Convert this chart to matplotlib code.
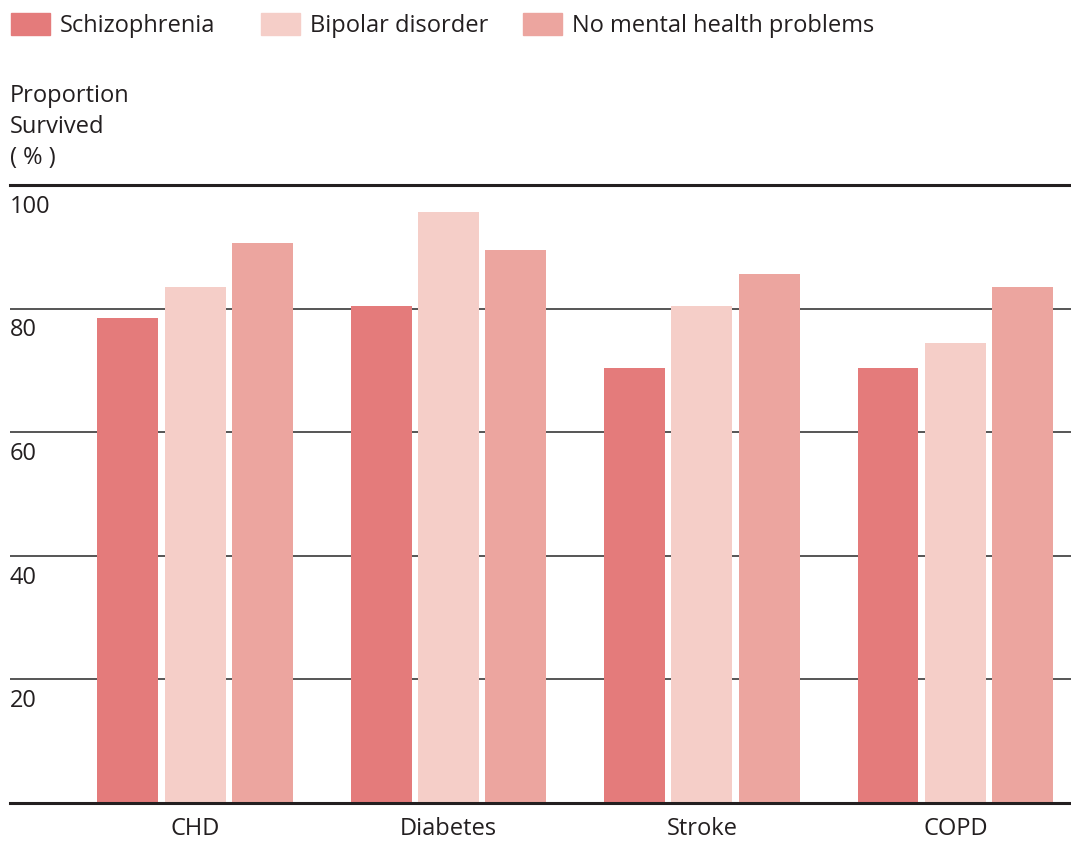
import numpy as np
import matplotlib
matplotlib.use("Agg")
import matplotlib.pyplot as plt
from matplotlib.patches import Rectangle

plt.rcParams['font.family'] = ['Open Sans', 'DejaVu Sans']

# ---------------- Data ----------------
categories = ["CHD", "Diabetes", "Stroke", "COPD"]
series_names = ["Schizophrenia", "Bipolar disorder", "No mental health problems"]
schizophrenia = [78.5, 80.4, 70.4, 70.4]
bipolar = [83.5, 95.6, 80.4, 74.4]
no_problems = [90.6, 89.5, 85.6, 83.5]
yticks = [20, 40, 60, 80, 100]

colors = ["#E47B7B", "#F5CEC8", "#ECA59F"]
text_col = "#231F20"

W, H = 1071, 841
fig = plt.figure(figsize=(W / 100, H / 100), dpi=100)
ax = fig.add_axes([10 / W, 1 - 803 / H, 1 - 10 / W, (803 - 185) / H])

x = np.arange(len(categories))
width = 0.2406
step = 0.266
for i, vals in enumerate([schizophrenia, bipolar, no_problems]):
    ax.bar(x + (i - 1) * step, vals, width, color=colors[i], zorder=2)

ax.set_xlim(-0.730, 3.456)
ax.set_ylim(0, 100)

# gridlines behind bars
for yv in yticks[:-1]:
    ax.axhline(yv, color="#555555", lw=1.4, zorder=1)
ax.axhline(100, color=text_col, lw=2.2, zorder=3, clip_on=False)
ax.axhline(0, color=text_col, lw=2.2, zorder=3, clip_on=False)

# y labels just below each gridline, inside the plot
for yv in yticks:
    ax.text(0.0, yv - 1.6, str(yv), transform=ax.get_yaxis_transform(),
            ha="left", va="top", fontsize=17, color=text_col)

ax.set_yticks([])
ax.set_xticks(x)
ax.set_xticklabels(categories, fontsize=17, color=text_col)
ax.tick_params(axis="x", length=0, pad=10)
for s in ax.spines.values():
    s.set_visible(False)

# y-axis title
fig.text(10 / W, 1 - 84 / H, "Proportion\nSurvived\n( % )", ha="left", va="top",
         fontsize=17, color=text_col, linespacing=1.4)

# ---------------- Legend ----------------
leg_x = [11, 261, 523]
for lx, name, c in zip(leg_x, series_names, colors):
    fig.patches.append(Rectangle((lx / W, 1 - 35 / H), 39 / W, 22 / H,
                                 transform=fig.transFigure, color=c))
    fig.text((lx + 49) / W, 1 - 26 / H, name, ha="left", va="center",
             fontsize=17, color=text_col)

fig.savefig("out.png", dpi=100)
